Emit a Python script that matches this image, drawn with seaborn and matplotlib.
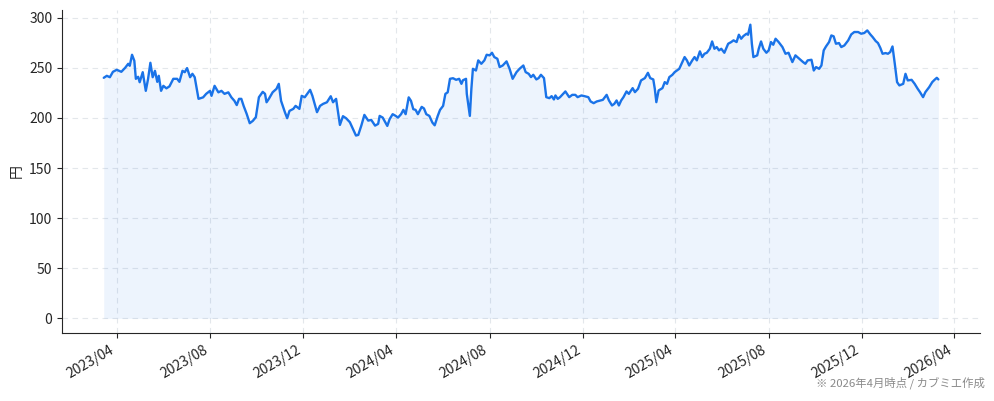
import pandas as pd
import seaborn as sns
import matplotlib
matplotlib.use("Agg")
import matplotlib.pyplot as plt
import matplotlib.dates as mdates

# start date of the series, offsets in days from it
START = "2023-03-15"

days = [
    0, 4, 8, 12, 17, 23, 28, 32, 34, 37, 40, 42, 45, 47, 51, 55, 58, 61, 64, 67,
    70, 72, 75, 78, 82, 86, 91, 96, 99, 103, 106, 109, 113, 116, 119, 124, 130,
    134, 139, 141, 145, 150, 154, 158, 163, 167, 171, 174, 177,
    180, 183, 187, 191, 195, 199, 203, 208, 211, 213, 216, 221, 226, 229, 232,
    237, 240, 243, 248, 251, 256, 259, 263, 270, 273, 276, 279, 283, 287, 292,
    297, 300, 304, 309, 313, 317, 322, 326, 330, 333, 337, 341, 346, 350, 355, 359,
    361, 365, 371, 374, 378, 382, 385, 389, 392, 395, 399, 402, 405, 408, 411,
    416, 419, 422, 426, 430, 433, 437, 440, 444, 447, 450, 453, 457, 461, 465,
    468, 470, 474, 475, 479, 481, 483, 487, 490, 494, 498, 501, 505, 508, 511,
    515, 518, 522, 527, 531, 535, 540,
    544, 549, 552, 556, 559, 562, 566, 569, 572, 576, 579, 583, 586, 589, 591,
    594, 597, 601, 604, 609, 613, 617, 620, 625, 629, 634, 637, 641, 645, 650,
    653, 658, 661, 665, 668, 671, 674, 677, 680, 684, 687, 692, 695, 699, 703,
    708, 712, 715, 719, 721, 723, 726,
    731, 734, 737, 740, 744, 747, 750, 753, 757, 760, 763, 766, 770, 773, 776,
    780, 783, 786, 789, 793, 796, 799, 802, 805, 808, 812, 817, 821, 824, 828,
    831, 834, 837, 841, 843, 846, 848, 850, 855, 857, 860, 863, 867, 870, 873,
    876, 879, 883, 888, 892, 896, 901, 905, 909,
    915, 918, 921, 926, 929, 932, 936, 939, 942, 945, 949, 952, 955, 958, 962,
    965, 969, 974, 978, 982, 987, 991, 995, 999, 1003, 1006, 1010, 1013, 1016,
    1019, 1023, 1026, 1029, 1032, 1035, 1038, 1041, 1046, 1049, 1052, 1057,
    1061, 1065, 1068, 1072, 1075, 1080, 1084, 1087, 1090, 1092,
]

price = [
    240, 242, 240.6, 246, 248, 246, 250, 254, 252, 263, 257, 239, 241, 235.6,
    245.6, 227, 239, 255, 240.6, 247, 236, 242, 227, 232, 229.5, 231.5, 239, 239,
    236, 247, 245.6, 249.7, 240.6, 244, 240.6, 219, 220.5, 224, 227, 222, 232,
    225.5, 227, 224, 225.5, 220.5, 217, 212.8, 219,
    219, 212, 204, 194.7, 197, 200.7, 220.6, 226, 224, 215.6, 219, 225.6, 229,
    234, 217, 205.7, 199.7, 207, 209, 212, 209, 222, 220.6, 228, 222, 214, 205.7,
    212, 214, 215.6, 221.6, 215.6, 219, 193, 201.7, 199.7, 195.7, 189, 182.4, 183,
    192.3, 203, 197.3, 198, 192.3, 194,
    202, 200.3, 192, 198.7, 203.7, 202, 200.3, 203.7, 208, 203.7, 220.5, 217,
    208.7, 208, 203.7, 211, 209.4, 203.7, 202, 195.3, 192.6, 202, 208, 212, 224,
    225.5, 239, 239.6, 238, 239, 234, 237.6, 239, 224, 202, 229, 249, 247.3,
    257.4, 254, 257.4, 263, 262.4, 265, 260.7, 259, 250.7, 252.3, 256.4, 249, 239,
    245.6,
    249, 252.3, 245.7, 244, 240.7, 243, 238.4, 239.7, 243, 239.7, 220.7, 219.7,
    221.7, 218.4, 222.4, 219, 220.7, 224, 226.4, 220.7, 223, 223, 220.7, 222.4,
    221.7, 220.7, 216.4, 214.7, 216.4, 217.4, 218, 223, 217.4, 212.4, 214, 217.4,
    212.4, 217.4, 220.7, 226.4, 224, 229.7, 225.7, 229, 237.4, 239.7, 245, 239.7,
    238.4, 229, 215.7, 227.4,
    229.7, 235.7, 234, 240.7, 243, 245.7, 247.3, 249, 255.7, 260.7, 257.4, 252.3,
    257.4, 260.7, 257.4, 266.4, 260.7, 264, 265, 269, 276.3, 269, 270.7, 267.4,
    269, 265, 274, 275.7, 277.4, 275.7, 283, 279, 281.7, 284, 283, 293, 274,
    260.7, 262.4, 269, 276.3, 269, 265, 267.4, 275.7, 273, 279, 275.7, 270.7, 264,
    265, 255.7, 262.4, 259.7,
    255.7, 254, 257.4, 258, 247.3, 250.7, 249, 252.3, 267.4, 271.3, 275.7, 282.3,
    281.4, 274, 274.7, 270.7, 272.3, 277.3, 283.3, 285.7, 285.7, 284, 284.7,
    287.3, 283.3, 280.7, 276.7, 274.7, 270, 264, 264.7, 264, 265.7, 271.3, 254,
    235.7, 232.4, 234, 244, 237.4, 238, 234, 229, 225.7, 220.7, 225.7, 230.7,
    235.7, 238, 240, 238.4,
]

ylabel = "円"
note = "※ 2026年4月時点 / カブミエ作成"

df = pd.DataFrame({
    "date": pd.Timestamp(START) + pd.to_timedelta(days, unit="D"),
    "price": price,
})

sns.set_style("ticks")
plt.rcParams["font.family"] = ["Noto Sans CJK JP", "DejaVu Sans"]

blue = "#1a73e8"
fig, ax = plt.subplots(figsize=(9.94, 4.01), dpi=100)
fig.subplots_adjust(left=0.0624, right=0.986, bottom=0.1696, top=0.975)

sns.lineplot(data=df, x="date", y="price", color=blue, linewidth=1.7, ax=ax)
ax.fill_between(df["date"], df["price"], 0, color=blue, alpha=0.08, linewidth=0)

ax.grid(True, linestyle=(0, (5, 4)), color="#dde1e6", linewidth=0.8, alpha=0.8)
ax.set_axisbelow(True)
ax.set_xlabel("")
ax.set_ylabel(ylabel, fontsize=10)
ax.set_yticks([0, 50, 100, 150, 200, 250, 300])

ax.xaxis.set_major_locator(mdates.MonthLocator(bymonth=[4, 8, 12]))
ax.xaxis.set_major_formatter(mdates.DateFormatter("%Y/%m"))
ax.tick_params(labelsize=10)
plt.setp(ax.get_xticklabels(), rotation=30, ha="right")

sns.despine(ax=ax, top=True, right=True)

fig.text(0.991, 0.03, note, ha="right", va="bottom", fontsize=8.2, color="#8a8a8a")

plt.savefig("out.png", dpi=100)
